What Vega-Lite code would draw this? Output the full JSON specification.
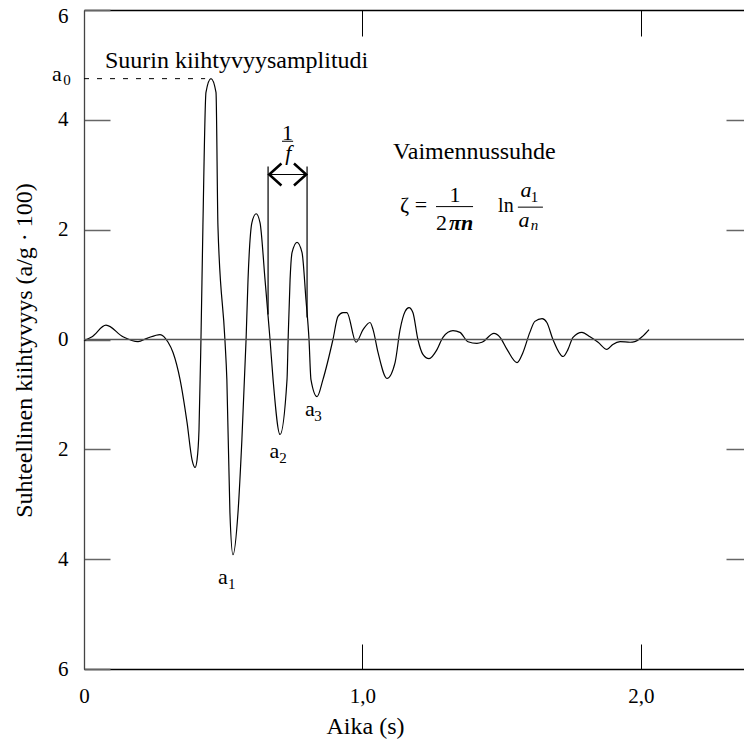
{
  "$schema": "https://vega.github.io/schema/vega-lite/v6.json",
  "width": 660,
  "height": 659,
  "autosize": {"type": "none"},
  "padding": {"left": 84, "top": 10, "right": 0, "bottom": 71},
  "background": "white",
  "config": {
    "view": {"stroke": null},
    "font": "Liberation Serif",
    "axis": {"grid": false, "labelFont": "Liberation Serif", "titleFont": "Liberation Serif", "labelColor": "black", "titleColor": "black", "titleFontWeight": "normal"},
    "text": {"font": "Liberation Serif", "color": "black"}
  },
  "resolve": {"axis": {"x": "independent", "y": "independent"}},
  "layer": [
    {
      "data": {"values": [
        {"t": 0.000, "v": -0.02}, {"t": 0.029, "v": 0.05}, {"t": 0.079, "v": 0.26}, {"t": 0.140, "v": 0.05},
        {"t": 0.194, "v": -0.04}, {"t": 0.226, "v": 0.02}, {"t": 0.273, "v": 0.09}, {"t": 0.302, "v": -0.05},
        {"t": 0.320, "v": -0.24}, {"t": 0.345, "v": -0.73}, {"t": 0.370, "v": -1.51}, {"t": 0.388, "v": -2.19},
        {"t": 0.399, "v": -2.33}, {"t": 0.406, "v": -2.19}, {"t": 0.413, "v": -1.64}, {"t": 0.420, "v": 0.0},
        {"t": 0.427, "v": 2.06}, {"t": 0.438, "v": 4.50}, {"t": 0.456, "v": 4.75}, {"t": 0.474, "v": 4.50},
        {"t": 0.481, "v": 2.06}, {"t": 0.506, "v": 0.0}, {"t": 0.513, "v": -0.73}, {"t": 0.524, "v": -3.15},
        {"t": 0.535, "v": -3.92}, {"t": 0.553, "v": -3.15}, {"t": 0.567, "v": -1.82}, {"t": 0.582, "v": 0.0},
        {"t": 0.589, "v": 1.09}, {"t": 0.603, "v": 2.13}, {"t": 0.618, "v": 2.29}, {"t": 0.632, "v": 2.13},
        {"t": 0.650, "v": 1.09}, {"t": 0.668, "v": 0.0}, {"t": 0.679, "v": -0.73}, {"t": 0.704, "v": -1.73},
        {"t": 0.729, "v": -0.73}, {"t": 0.733, "v": 0.0}, {"t": 0.740, "v": 1.09}, {"t": 0.747, "v": 1.58},
        {"t": 0.765, "v": 1.77}, {"t": 0.783, "v": 1.58}, {"t": 0.797, "v": 0.73}, {"t": 0.808, "v": 0.0},
        {"t": 0.815, "v": -0.73}, {"t": 0.837, "v": -1.04}, {"t": 0.858, "v": -0.73}, {"t": 0.894, "v": 0.0},
        {"t": 0.912, "v": 0.42}, {"t": 0.930, "v": 0.49}, {"t": 0.944, "v": 0.49}, {"t": 0.977, "v": -0.05},
        {"t": 1.002, "v": 0.18}, {"t": 1.027, "v": 0.31}, {"t": 1.038, "v": 0.18}, {"t": 1.056, "v": -0.24},
        {"t": 1.088, "v": -0.71}, {"t": 1.117, "v": -0.42}, {"t": 1.135, "v": 0.18}, {"t": 1.153, "v": 0.51},
        {"t": 1.167, "v": 0.58}, {"t": 1.181, "v": 0.49}, {"t": 1.199, "v": 0.0}, {"t": 1.217, "v": -0.27},
        {"t": 1.239, "v": -0.35}, {"t": 1.268, "v": -0.18}, {"t": 1.289, "v": 0.04}, {"t": 1.325, "v": 0.16},
        {"t": 1.350, "v": 0.13}, {"t": 1.379, "v": -0.04}, {"t": 1.411, "v": -0.07}, {"t": 1.429, "v": -0.05},
        {"t": 1.472, "v": 0.11}, {"t": 1.494, "v": 0.04}, {"t": 1.519, "v": -0.18}, {"t": 1.555, "v": -0.42},
        {"t": 1.576, "v": -0.24}, {"t": 1.601, "v": 0.13}, {"t": 1.619, "v": 0.33}, {"t": 1.645, "v": 0.38},
        {"t": 1.662, "v": 0.31}, {"t": 1.684, "v": 0.0}, {"t": 1.720, "v": -0.31}, {"t": 1.738, "v": -0.18},
        {"t": 1.756, "v": 0.04}, {"t": 1.788, "v": 0.13}, {"t": 1.817, "v": 0.05}, {"t": 1.846, "v": -0.05},
        {"t": 1.878, "v": -0.18}, {"t": 1.899, "v": -0.09}, {"t": 1.925, "v": -0.04}, {"t": 1.961, "v": -0.05},
        {"t": 1.978, "v": -0.04}, {"t": 2.004, "v": 0.05}, {"t": 2.029, "v": 0.18}
      ]},
      "mark": {"type": "line", "interpolate": "monotone", "color": "black", "strokeWidth": 1.2},
      "encoding": {
        "x": {"field": "t", "type": "quantitative", "scale": {"domain": [0, 2.37], "nice": false, "zero": false},
          "axis": {"orient": "bottom", "values": [0, 1, 2], "labelExpr": "datum.value == 0 ? '0' : replace(format(datum.value, '.1f'), '.', ',')",
            "tickSize": -25, "tickColor": "black", "tickWidth": 1, "domainColor": "black", "domainWidth": 1.5,
            "labelFontSize": 21, "labelPadding": 41, "labelFlush": false,
            "title": "Aika (s)", "titleFontSize": 24, "titleX": 281, "titleY": 64, "titleAlign": "center", "titleBaseline": "alphabetic"}},
        "y": {"field": "v", "type": "quantitative", "scale": {"domain": [-6, 6], "nice": false, "zero": false},
          "axis": {"orient": "left", "values": [-6, -4, -2, 0, 2, 4, 6], "labelExpr": "format(abs(datum.value), 'd')",
            "tickSize": -26, "tickColor": "#666", "tickWidth": 1.5, "domainColor": "#444", "domainWidth": 1.3,
            "labelFontSize": 21, "labelPadding": 42, "labelFlush": false,
            "labelOffset": {"condition": {"test": "datum.value == 6", "value": 6}, "value": 0},
            "title": "Suhteellinen kiihtyvyys (a/g · 100)", "titleFontSize": 24, "titleAngle": -90, "titleX": -53, "titleY": 340, "titleAlign": "center", "titleBaseline": "alphabetic"}}
      }
    },
    {
      "data": {"values": [{"t0": 0, "t1": 0.435, "v": 4.75}]},
      "mark": {"type": "rule", "strokeDash": [5, 8], "color": "black", "strokeWidth": 1},
      "encoding": {
        "x": {"field": "t0", "type": "quantitative", "scale": {"domain": [0, 2.37], "nice": false, "zero": false},
          "axis": {"orient": "top", "values": [1, 2], "labels": false, "tickSize": -26, "tickColor": "black", "tickWidth": 1, "domainColor": "black", "domainWidth": 1.5, "title": null}},
        "x2": {"field": "t1"},
        "y": {"field": "v", "type": "quantitative", "scale": {"domain": [-6, 6], "nice": false, "zero": false},
          "axis": {"orient": "right", "values": [-4, -2, 2, 4], "labels": false, "tickSize": -18, "tickColor": "#666", "tickWidth": 1.5, "domain": false, "title": null}}
      }
    },
    {
      "data": {"values": [{}]},
      "mark": {"type": "rule", "color": "#555", "strokeWidth": 1.3},
      "encoding": {"y": {"datum": 0, "type": "quantitative", "scale": {"domain": [-6, 6], "nice": false, "zero": false}, "axis": null}}
    },
    {
      "data": {"values": [{"t": 0.661, "v1": 3.15, "v2": 0.455}, {"t": 0.801, "v1": 3.15, "v2": 0.40}]},
      "mark": {"type": "rule", "color": "black", "strokeWidth": 1.2},
      "encoding": {
        "x": {"field": "t", "type": "quantitative", "scale": {"domain": [0, 2.37], "nice": false, "zero": false}, "axis": null},
        "y": {"field": "v1", "type": "quantitative", "scale": {"domain": [-6, 6], "nice": false, "zero": false}, "axis": null},
        "y2": {"field": "v2"}
      }
    },
    {
      "data": {"values": [{"t0": 0.664, "t1": 0.799, "v": 3.005}]},
      "mark": {"type": "rule", "color": "black", "strokeWidth": 1.2},
      "encoding": {
        "x": {"field": "t0", "type": "quantitative", "scale": {"domain": [0, 2.37], "nice": false, "zero": false}, "axis": null},
        "x2": {"field": "t1"},
        "y": {"field": "v", "type": "quantitative", "scale": {"domain": [-6, 6], "nice": false, "zero": false}, "axis": null}
      }
    },
    {
      "data": {"values": [{"t": 0.665, "v": 3.005, "dir": "left"}, {"t": 0.798, "v": 3.005, "dir": "right"}]},
      "mark": {"type": "point", "filled": false, "color": "black", "strokeWidth": 2.5, "size": 600, "opacity": 1, "strokeJoin": "miter"},
      "encoding": {
        "x": {"field": "t", "type": "quantitative", "scale": {"domain": [0, 2.37], "nice": false, "zero": false}, "axis": null},
        "y": {"field": "v", "type": "quantitative", "scale": {"domain": [-6, 6], "nice": false, "zero": false}, "axis": null},
        "shape": {"field": "dir", "type": "nominal", "scale": {"domain": ["left", "right"], "range": ["M1,-0.9L0,0L1,0.9", "M-1,-0.9L0,0L-1,0.9"]}, "legend": null}
      }
    },
    {
      "data": {"values": [{"t0": 1.264, "t1": 1.397, "v": 2.42}, {"t0": 1.558, "t1": 1.648, "v": 2.41}, {"t0": 0.711, "t1": 0.751, "v": 3.61}]},
      "mark": {"type": "rule", "color": "black", "strokeWidth": 1},
      "encoding": {
        "x": {"field": "t0", "type": "quantitative", "scale": {"domain": [0, 2.37], "nice": false, "zero": false}, "axis": null},
        "x2": {"field": "t1"},
        "y": {"field": "v", "type": "quantitative", "scale": {"domain": [-6, 6], "nice": false, "zero": false}, "axis": null}
      }
    },
    {
      "data": {"values": [{"t": 0.075, "v": 4.94, "label": "Suurin kiihtyvyysamplitudi"}, {"t": 1.110, "v": 3.28, "label": "Vaimennussuhde"}]},
      "mark": {"type": "text", "align": "left", "baseline": "alphabetic", "fontSize": 24},
      "encoding": {
        "x": {"field": "t", "type": "quantitative", "scale": {"domain": [0, 2.37], "nice": false, "zero": false}, "axis": null},
        "y": {"field": "v", "type": "quantitative", "scale": {"domain": [-6, 6], "nice": false, "zero": false}, "axis": null},
        "text": {"field": "label"}
      }
    },
    {
      "data": {"values": [{"t": 1.135, "v": 2.33, "label": "ζ ="}]},
      "mark": {"type": "text", "align": "left", "baseline": "alphabetic", "fontSize": 22},
      "encoding": {
        "x": {"field": "t", "type": "quantitative", "scale": {"domain": [0, 2.37], "nice": false, "zero": false}, "axis": null},
        "y": {"field": "v", "type": "quantitative", "scale": {"domain": [-6, 6], "nice": false, "zero": false}, "axis": null},
        "text": {"field": "label"}
      }
    },
    {
      "data": {"values": [{"t": 1.487, "v": 2.33, "label": "ln"}]},
      "mark": {"type": "text", "align": "left", "baseline": "alphabetic", "fontSize": 20},
      "encoding": {
        "x": {"field": "t", "type": "quantitative", "scale": {"domain": [0, 2.37], "nice": false, "zero": false}, "axis": null},
        "y": {"field": "v", "type": "quantitative", "scale": {"domain": [-6, 6], "nice": false, "zero": false}, "axis": null},
        "text": {"field": "label"}
      }
    },
    {
      "data": {"values": [{"t": 1.332, "v": 2.51, "label": "1"}, {"t": 1.284, "v": 2.00, "label": "2"}, {"t": 0.731, "v": 3.64, "label": "1"},
        {"t": -0.097, "v": 4.70, "label": "a"}, {"t": 0.499, "v": -4.46, "label": "a"}, {"t": 0.684, "v": -2.15, "label": "a"}, {"t": 0.811, "v": -1.40, "label": "a"}]},
      "mark": {"type": "text", "align": "center", "baseline": "alphabetic", "fontSize": 22},
      "encoding": {
        "x": {"field": "t", "type": "quantitative", "scale": {"domain": [0, 2.37], "nice": false, "zero": false}, "axis": null},
        "y": {"field": "v", "type": "quantitative", "scale": {"domain": [-6, 6], "nice": false, "zero": false}, "axis": null},
        "text": {"field": "label"}
      }
    },
    {
      "data": {"values": [{"t": 1.587, "v": 2.60, "label": "a"}, {"t": 1.580, "v": 2.04, "label": "a"}, {"t": 0.734, "v": 3.26, "label": "f"}]},
      "mark": {"type": "text", "align": "center", "baseline": "alphabetic", "fontSize": 22, "fontStyle": "italic"},
      "encoding": {
        "x": {"field": "t", "type": "quantitative", "scale": {"domain": [0, 2.37], "nice": false, "zero": false}, "axis": null},
        "y": {"field": "v", "type": "quantitative", "scale": {"domain": [-6, 6], "nice": false, "zero": false}, "axis": null},
        "text": {"field": "label"}
      }
    },
    {
      "data": {"values": [{"t": 1.311, "v": 2.00, "label": "πn"}]},
      "mark": {"type": "text", "align": "left", "baseline": "alphabetic", "fontSize": 22, "fontStyle": "italic", "fontWeight": "bold"},
      "encoding": {
        "x": {"field": "t", "type": "quantitative", "scale": {"domain": [0, 2.37], "nice": false, "zero": false}, "axis": null},
        "y": {"field": "v", "type": "quantitative", "scale": {"domain": [-6, 6], "nice": false, "zero": false}, "axis": null},
        "text": {"field": "label"}
      }
    },
    {
      "data": {"values": [{"t": 1.618, "v": 2.51, "label": "1"}, {"t": -0.061, "v": 4.63, "label": "0"}, {"t": 0.531, "v": -4.55, "label": "1"}, {"t": 0.715, "v": -2.24, "label": "2"}, {"t": 0.840, "v": -1.49, "label": "3"}]},
      "mark": {"type": "text", "align": "center", "baseline": "alphabetic", "fontSize": 15},
      "encoding": {
        "x": {"field": "t", "type": "quantitative", "scale": {"domain": [0, 2.37], "nice": false, "zero": false}, "axis": null},
        "y": {"field": "v", "type": "quantitative", "scale": {"domain": [-6, 6], "nice": false, "zero": false}, "axis": null},
        "text": {"field": "label"}
      }
    },
    {
      "data": {"values": [{"t": 1.618, "v": 1.99, "label": "n"}]},
      "mark": {"type": "text", "align": "center", "baseline": "alphabetic", "fontSize": 15, "fontStyle": "italic"},
      "encoding": {
        "x": {"field": "t", "type": "quantitative", "scale": {"domain": [0, 2.37], "nice": false, "zero": false}, "axis": null},
        "y": {"field": "v", "type": "quantitative", "scale": {"domain": [-6, 6], "nice": false, "zero": false}, "axis": null},
        "text": {"field": "label"}
      }
    }
  ]
}
